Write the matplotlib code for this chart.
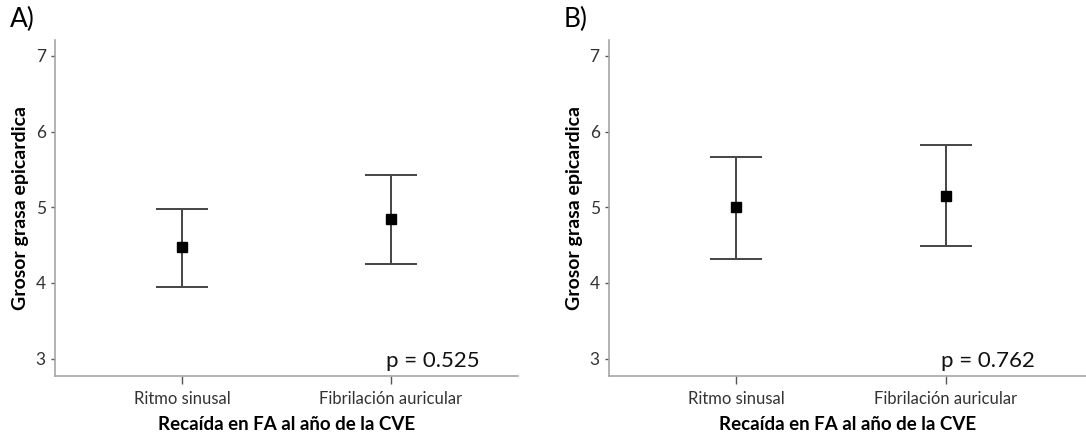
import matplotlib
matplotlib.use("Agg")
import matplotlib.pyplot as plt

# Datos (media e IC95%)
categorias = ["Ritmo sinusal", "Fibrilación auricular"]

media_A = [4.47, 4.84]
inf_A = [3.95, 4.25]
sup_A = [4.98, 5.42]
p_A = "p = 0.525"

media_B = [5.00, 5.15]
inf_B = [4.32, 4.49]
sup_B = [5.67, 5.82]
p_B = "p = 0.762"

yticks = [3, 4, 5, 6, 7]

plt.rcParams['font.family'] = ['Lato', 'DejaVu Sans']

fig = plt.figure(figsize=(10.86, 4.34), dpi=100)
ax_A = fig.add_axes([0.0506, 0.1336, 0.4264, 0.7742])
ax_B = fig.add_axes([0.5605, 0.1336, 0.4395, 0.7742])

gris = "#a6a6a6"


def panel(ax, media, inf, sup, ptxt, letra, xmax):
    x = list(range(len(categorias)))
    err = [[m - l for m, l in zip(media, inf)], [u - m for m, u in zip(media, sup)]]
    ax.errorbar(x, media, yerr=err, fmt="s", color="black", ms=6.5,
                ecolor="#444444", elinewidth=1.4, capsize=19, capthick=1.4)
    ax.set_xlim(-0.61, xmax)
    ax.set_ylim(2.77, 7.21)
    ax.set_yticks(yticks)
    ax.set_xticks(x)
    ax.set_xticklabels(categorias)
    for s in ["top", "right"]:
        ax.spines[s].set_visible(False)
    for s in ["left", "bottom"]:
        ax.spines[s].set_color(gris)
        ax.spines[s].set_linewidth(1.2)
    ax.tick_params(axis="y", colors="#333333", labelsize=12.5, length=3, width=1, direction="out")
    ax.tick_params(axis="y", color="#555555")
    ax.tick_params(axis="x", colors="#333333", labelsize=12, length=6, width=1, pad=5)
    ax.tick_params(axis="x", color="#555555")
    ax.set_ylabel("Grosor grasa epicardica", fontsize=14, fontweight="bold", labelpad=5)
    ax.set_xlabel("Recaída en FA al año de la CVE", fontsize=13.5, fontweight="bold", labelpad=6)
    ax.text(1.2, 2.89, ptxt, fontsize=16, ha="center", va="baseline", color="#111111")
    ax.text(-0.07, 1.06, letra, transform=ax.transAxes, fontsize=19, ha="center", va="center")


panel(ax_A, media_A, inf_A, sup_A, p_A, "A)", 1.61)
panel(ax_B, media_B, inf_B, sup_B, p_B, "B)", 1.67)

fig.savefig("out.png", dpi=100)
